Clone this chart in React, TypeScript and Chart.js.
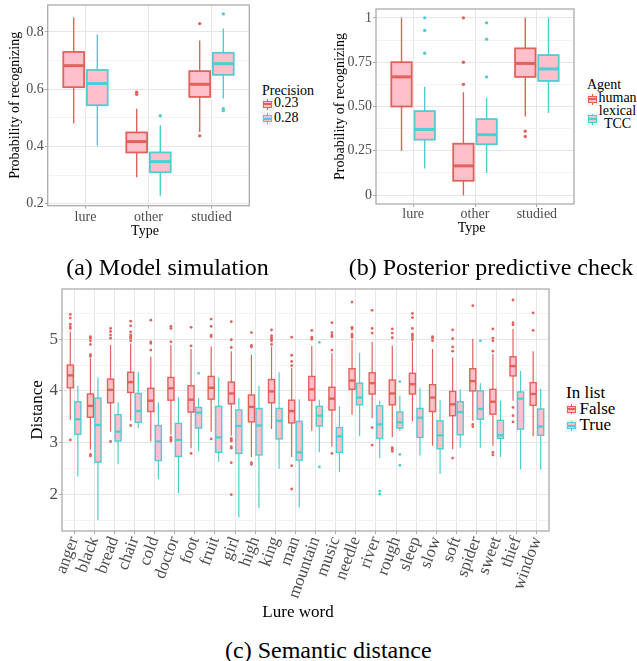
import React, { useEffect, useRef } from 'react';
import { Chart, registerables } from 'chart.js';

Chart.register(...registerables);

const FONT = "'Liberation Serif', 'Times New Roman', Times, serif";
const RED = '#E2615B';
const CYAN = '#4FCDD2';
const PINK = '#FFC0CB';
const TICK_TEXT = '#4D4D4D';
const GRID_MAJOR = '#E6E6E6';
const GRID_MINOR = '#F3F3F3';
const BORDER = '#ABABAB';

// ---------- Panel (a): Model simulation ----------
const aCats = ['lure', 'other', 'studied'];
const aLegendTitle = 'Precision';
const aLegendLabels = ['0.23', '0.28'];
const aYTicks = [0.2, 0.4, 0.6, 0.8];
const aYTickLabels = ['0.2', '0.4', '0.6', '0.8'];
const aYMinor = [0.3, 0.5, 0.7];
const a023Low = [0.48, 0.292, 0.45];
const a023Q1 = [0.607, 0.379, 0.573];
const a023Med = [0.682, 0.417, 0.617];
const a023Q3 = [0.73, 0.449, 0.663];
const a023High = [0.85, 0.532, 0.77];
const a023Out = [[], [0.582, 0.589], [0.829, 0.437]];
const a028Low = [0.402, 0.228, 0.567];
const a028Q1 = [0.544, 0.31, 0.65];
const a028Med = [0.62, 0.347, 0.689];
const a028Q3 = [0.667, 0.379, 0.727];
const a028High = [0.791, 0.474, 0.812];
const a028Out = [[], [0.507], [0.863, 0.532, 0.525]];

// ---------- Panel (b): Posterior predictive check ----------
const bCats = ['lure', 'other', 'studied'];
const bLegendTitle = 'Agent';
const bLegendLabels = ['human', 'lexical\nTCC'];
const bYTicks = [0, 0.25, 0.5, 0.75, 1];
const bYTickLabels = ['0', '0.25', '0.50', '0.75', '1'];
const bYMinor = [0.125, 0.375, 0.625, 0.875];
const bHumanLow = [0.25, 0.0, 0.444];
const bHumanQ1 = [0.5, 0.081, 0.667];
const bHumanMed = [0.667, 0.165, 0.743];
const bHumanQ3 = [0.75, 0.29, 0.828];
const bHumanHigh = [1.0, 0.58, 1.0];
const bHumanOut = [[], [1.0, 0.75, 0.625], [0.361, 0.331]];
const bTccLow = [0.15, 0.125, 0.463];
const bTccQ1 = [0.313, 0.287, 0.644];
const bTccMed = [0.371, 0.341, 0.712];
const bTccQ3 = [0.474, 0.429, 0.79];
const bTccHigh = [0.612, 0.549, 1.0];
const bTccOut = [[1.0, 0.929, 0.8], [0.972, 0.88, 0.667], []];

// ---------- Panel (c): Semantic distance ----------
const cCats = ['anger', 'black', 'bread', 'chair', 'cold', 'doctor', 'foot', 'fruit', 'girl', 'high', 'king', 'man',
  'mountain', 'music', 'needle', 'river', 'rough', 'sleep', 'slow', 'soft', 'spider', 'sweet', 'thief', 'window'];
const cLegendTitle = 'In list';
const cLegendLabels = ['False', 'True'];
const cYTicks = [2, 3, 4, 5];
const cYTickLabels = ['2', '3', '4', '5'];
const cYMinor = [1.5, 2.5, 3.5, 4.5, 5.5];
const cFalseHigh = [5.15, 4.63, 4.89, 4.92, 4.66, 4.89, 4.81, 4.86, 4.77, 4.70, 4.86, 4.45, 4.87, 4.73, 4.99, 4.95, 4.88, 4.95, 4.81, 4.65, 5.01, 4.71, 5.20, 4.77];
const cFalseQ3 = [4.50, 3.94, 4.23, 4.36, 4.05, 4.26, 4.10, 4.28, 4.17, 3.92, 4.22, 3.82, 4.28, 4.07, 4.43, 4.35, 4.21, 4.34, 4.12, 3.99, 4.43, 4.03, 4.66, 4.16];
const cFalseMed = [4.30, 3.71, 4.02, 4.17, 3.81, 4.05, 3.83, 4.06, 3.95, 3.69, 3.99, 3.61, 4.03, 3.85, 4.20, 4.15, 3.95, 4.13, 3.87, 3.74, 4.19, 3.79, 4.48, 3.94];
const cFalseQ1 = [4.06, 3.49, 3.77, 3.97, 3.60, 3.82, 3.59, 3.84, 3.75, 3.40, 3.77, 3.38, 3.82, 3.63, 4.03, 3.94, 3.73, 3.94, 3.60, 3.52, 4.00, 3.55, 4.29, 3.72];
const cFalseLow = [3.44, 2.86, 3.21, 3.42, 3.02, 3.15, 2.89, 3.21, 3.13, 2.72, 3.26, 2.72, 3.23, 2.92, 3.54, 3.47, 3.10, 3.41, 2.94, 2.87, 3.42, 2.94, 3.81, 3.12];
const cFalseOut = [
  [5.48, 5.41, 5.29, 5.24, 5.21, 3.05],
  [5.05, 5.02, 4.97, 4.90, 4.70, 4.67, 2.77, 2.74],
  [5.21, 5.15, 5.08, 5.02, 3.02],
  [5.35, 5.26, 5.14, 5.08, 5.05, 5.02, 4.97, 3.33],
  [5.37, 4.95, 4.92, 4.79],
  [5.25, 5.21, 4.95, 3.10, 3.06, 3.03],
  [5.23, 4.87, 2.79],
  [5.39, 5.25, 5.08, 5.05, 3.07],
  [5.34, 4.99, 4.84, 3.08, 3.05, 3.03, 2.92, 2.89, 2.61, 1.99],
  [5.13, 4.88, 4.85, 2.61, 2.58],
  [5.18, 5.07, 5.03, 5.00, 4.97, 4.90],
  [5.04, 4.69, 4.57, 4.49, 2.55, 2.10],
  [5.17, 5.04, 5.00],
  [5.32, 5.13, 5.08, 5.05, 4.79, 2.79],
  [5.72, 5.23, 5.20, 5.10, 5.07, 5.04],
  [5.56, 5.21, 5.12, 3.29, 2.95],
  [5.20, 5.12, 5.03, 2.90, 2.87, 2.83],
  [5.50, 5.42, 5.21, 5.10, 5.07, 5.03, 4.99],
  [5.05, 5.02, 4.97],
  [5.18, 5.01, 4.85, 4.77, 2.70],
  [5.65, 3.35, 3.31],
  [5.20, 5.02, 4.97, 4.77, 2.81, 2.76],
  [5.76, 5.32, 5.28, 3.68, 3.52, 3.40],
  [5.51, 5.17],
];
const cTrueHigh = [4.10, 4.26, 3.78, 4.37, 3.78, 3.88, 3.86, 4.26, 3.86, 4.10, 4.36, 3.84, 3.83, 3.70, 4.74, 3.81, 3.91, 4.06, 3.83, 4.03, 4.15, 3.81, 4.39, 4.04];
const cTrueQ3 = [3.79, 3.86, 3.54, 3.95, 3.33, 3.37, 3.68, 3.70, 3.63, 3.66, 3.66, 3.41, 3.70, 3.29, 4.15, 3.71, 3.59, 3.66, 3.42, 3.79, 4.00, 3.43, 3.98, 3.65];
const cTrueMed = [3.45, 3.34, 3.21, 3.61, 3.02, 3.05, 3.58, 3.10, 3.32, 3.33, 3.42, 2.81, 3.52, 3.12, 3.87, 3.35, 3.39, 3.48, 3.14, 3.59, 3.65, 3.14, 3.85, 3.31];
const cTrueQ1 = [3.16, 2.62, 3.03, 3.39, 2.65, 2.73, 3.28, 2.81, 2.79, 2.76, 3.07, 2.66, 3.32, 2.81, 3.73, 3.08, 3.28, 3.10, 2.88, 3.15, 3.45, 3.08, 3.26, 3.14];
const cTrueLow = [2.34, 1.50, 2.58, 3.28, 2.29, 2.02, 2.83, 2.63, 1.55, 1.73, 2.49, 1.74, 2.81, 2.43, 3.12, 2.70, 3.23, 2.75, 2.39, 2.90, 2.90, 2.72, 2.48, 2.48];
const cTrueOut = [
  [], [], [], [], [], [], [4.34], [], [], [], [], [],
  [4.94, 2.53], [], [], [2.06, 2.00], [4.18, 2.77, 2.56], [], [], [], [4.97], [], [], [],
];

// ---------- captions ----------
const captionA = '(a) Model simulation';
const captionB = '(b) Posterior predictive check';
const captionC = '(c) Semantic distance';

type Series = {
  color: string; offset: number;
  low: number[]; q1: number[]; med: number[]; q3: number[]; high: number[]; out: number[][];
};

type PanelSpec = {
  cats: string[]; series: Series[];
  yMin: number; yMax: number; yMajor: number[]; yMajorLabels: string[]; yMinor: number[];
  xTitle: string; yTitle: string; fontSize: number; rotation: number;
  canvas: { x: number; y: number; w: number; h: number };
  plot: { l: number; t: number; r: number; b: number };
  yTitleX: number; xTitleX: number; xTitleY: number; xTickPad: number;
  boxWidth: number; pointRadius: number; boxLine: number; medLine: number; whiskerLine: number;
};

function boxPlugin(s: PanelSpec) {
  return {
    id: 'boxes',
    beforeDatasetsDraw(chart: any) {
      const { ctx, scales } = chart;
      const x = scales.x;
      const y = scales.y;
      const halfW = (x.getPixelForValue(1 + s.boxWidth / 2) - x.getPixelForValue(1));
      ctx.save();
      s.series.forEach((se) => {
        se.q1.forEach((_: number, i: number) => {
          const cx = x.getPixelForValue(i + 1 + se.offset);
          const pLow = y.getPixelForValue(se.low[i]);
          const pQ1 = y.getPixelForValue(se.q1[i]);
          const pMed = y.getPixelForValue(se.med[i]);
          const pQ3 = y.getPixelForValue(se.q3[i]);
          const pHigh = y.getPixelForValue(se.high[i]);
          ctx.strokeStyle = se.color;
          ctx.lineWidth = s.whiskerLine;
          ctx.beginPath();
          ctx.moveTo(cx, pHigh); ctx.lineTo(cx, pQ3);
          ctx.moveTo(cx, pQ1); ctx.lineTo(cx, pLow);
          ctx.stroke();
          ctx.fillStyle = PINK;
          ctx.fillRect(cx - halfW, pQ3, 2 * halfW, pQ1 - pQ3);
          ctx.lineWidth = s.boxLine;
          ctx.strokeRect(cx - halfW, pQ3, 2 * halfW, pQ1 - pQ3);
          ctx.lineWidth = s.medLine;
          ctx.beginPath();
          ctx.moveTo(cx - halfW, pMed); ctx.lineTo(cx + halfW, pMed);
          ctx.stroke();
        });
      });
      ctx.restore();
    },
    afterDatasetsDraw(chart: any) {
      const { ctx, chartArea: a } = chart;
      ctx.save();
      ctx.strokeStyle = BORDER;
      ctx.lineWidth = 1.3;
      ctx.strokeRect(a.left, a.top, a.right - a.left, a.bottom - a.top);
      ctx.restore();
    },
  };
}

function buildConfig(s: PanelSpec): any {
  const lh = s.fontSize * 1.2;
  const { x: cx, y: cy, w, h } = s.canvas;
  const padLeft = s.yTitleX - cx - lh / 2;
  const yWidth = s.plot.l - cx - padLeft;
  const padTop = s.plot.t - cy;
  const padRight = cx + w - s.plot.r;
  const xBottom = s.xTitleY + lh / 2 - cy;
  const padBottom = h - xBottom;
  const xHeight = xBottom - (s.plot.b - cy);
  const font = { family: FONT, size: s.fontSize };
  const n = s.cats.length;
  const majorIdx = (v: number) => s.yMajor.findIndex((m) => Math.abs(m - v) < 1e-9);
  const zero = (sc: any) => { sc.paddingLeft = 0; sc.paddingRight = 0; sc.paddingTop = 0; sc.paddingBottom = 0; };
  return {
    type: 'scatter',
    data: {
      datasets: s.series.map((se) => ({
        data: se.out.flatMap((arr, i) => arr.map((v) => ({ x: i + 1 + se.offset, y: v }))),
        pointRadius: s.pointRadius,
        pointBackgroundColor: se.color,
        pointBorderWidth: 0,
        pointHoverRadius: 0,
      })),
    },
    options: {
      responsive: false,
      animation: false,
      devicePixelRatio: 1,
      events: [],
      layout: { padding: { left: padLeft, top: padTop, right: padRight, bottom: padBottom } },
      plugins: { legend: { display: false }, tooltip: { enabled: false } },
      scales: {
        x: {
          type: 'linear', min: 0.4, max: n + 0.6,
          afterBuildTicks: (sc: any) => { sc.ticks = s.cats.map((_, i) => ({ value: i + 1 })); },
          afterFit: (sc: any) => { sc.height = xHeight; zero(sc); },
          ticks: {
            callback: (v: number) => s.cats[Math.round(v) - 1] ?? '',
            color: TICK_TEXT, font, padding: s.xTickPad, autoSkip: false,
            minRotation: s.rotation, maxRotation: s.rotation,
          },
          grid: { color: GRID_MAJOR, lineWidth: 1, tickColor: BORDER, tickLength: 3, drawTicks: true },
          border: { display: false },
          title: { display: false, text: s.xTitle },
        },
        y: {
          type: 'linear', min: s.yMin, max: s.yMax,
          afterBuildTicks: (sc: any) => {
            sc.ticks = [...s.yMajor, ...s.yMinor].sort((p, q) => p - q).map((v) => ({ value: v }));
          },
          afterFit: (sc: any) => { sc.width = yWidth; zero(sc); },
          ticks: {
            callback: (v: number) => { const k = majorIdx(v); return k >= 0 ? s.yMajorLabels[k] : ''; },
            color: TICK_TEXT, font, padding: 1, autoSkip: false,
          },
          grid: {
            color: (c: any) => (c.tick && majorIdx(c.tick.value) >= 0 ? GRID_MAJOR : GRID_MINOR),
            tickColor: (c: any) => (c.tick && majorIdx(c.tick.value) >= 0 ? BORDER : 'rgba(0,0,0,0)'),
            lineWidth: 1, tickLength: 3, drawTicks: true,
          },
          border: { display: false },
          title: { display: true, text: s.yTitle, color: '#000', font, padding: 0 },
        },
      },
    },
    plugins: [boxPlugin(s)],
  };
}

function BoxPanel({ spec }: { spec: PanelSpec }) {
  const ref = useRef<HTMLCanvasElement>(null);
  useEffect(() => {
    const chart = new Chart(ref.current as HTMLCanvasElement, buildConfig(spec));
    return () => chart.destroy();
  }, []);
  const { x, y, w, h } = spec.canvas;
  const fs = spec.fontSize;
  return (
    <>
      <canvas ref={ref} width={w} height={h}
        style={{ position: 'absolute', left: x, top: y, width: w, height: h }} />
      <div style={{
        position: 'absolute', left: spec.xTitleX - 100, width: 200, top: spec.xTitleY - 0.56 * fs,
        textAlign: 'center', fontFamily: FONT, fontSize: fs, lineHeight: `${fs}px`, color: '#000', whiteSpace: 'nowrap',
      }}>{spec.xTitle}</div>
    </>
  );
}

function Key({ color, x, cy, w, h }: { color: string; x: number; cy: number; w: number; h: number }) {
  return (
    <div style={{ position: 'absolute', left: x, top: cy - h / 2, width: w, height: h, background: '#F2F2F2' }}>
      <div style={{ position: 'absolute', left: w / 2 - 0.6, top: 1, width: 1.2, height: h - 2, background: color }} />
      <div style={{
        position: 'absolute', left: 1, width: w - 2, top: h * 0.22, height: h * 0.56,
        background: PINK, border: `1.3px solid ${color}`, boxSizing: 'border-box',
      }} />
      <div style={{ position: 'absolute', left: 1, width: w - 2, top: h / 2 - 1, height: 2, background: color }} />
    </div>
  );
}

type LegendItem = { color: string; keyCy: number; lines: string[]; lineCys: number[] };

function Legend({ x, title, titleCy, fs, keyW, keyH, labelX, labelW, center, items }:
  { x: number; title: string; titleCy: number; fs: number; keyW: number; keyH: number; labelX: number; labelW?: number; center?: boolean; items: LegendItem[] }) {
  const textStyle = (top: number, left: number): React.CSSProperties => ({
    position: 'absolute', left, top, fontFamily: FONT, fontSize: fs, lineHeight: `${fs}px`,
    whiteSpace: 'nowrap', color: '#000',
  });
  return (
    <>
      <div style={textStyle(titleCy - 0.56 * fs, x)}>{title}</div>
      {items.map((it, k) => (
        <React.Fragment key={k}>
          <Key color={it.color} x={x} cy={it.keyCy} w={keyW} h={keyH} />
          {it.lines.map((ln, j) => (
            <div key={j} style={{
              ...textStyle(it.lineCys[j] - 0.56 * fs, labelX),
              ...(center && labelW ? { width: labelW, textAlign: 'center' as const } : {}),
            }}>{ln}</div>
          ))}
        </React.Fragment>
      ))}
    </>
  );
}

function Caption({ text, cx, cy }: { text: string; cx: number; cy: number }) {
  return (
    <div style={{
      position: 'absolute', left: cx - 200, width: 400, top: cy - 0.56 * 24, textAlign: 'center',
      fontFamily: FONT, fontSize: 24, lineHeight: '24px', whiteSpace: 'nowrap', color: '#000',
    }}>{text}</div>
  );
}

const panelA: PanelSpec = {
  cats: aCats,
  series: [
    { color: RED, offset: -0.1875, low: a023Low, q1: a023Q1, med: a023Med, q3: a023Q3, high: a023High, out: a023Out },
    { color: CYAN, offset: 0.1875, low: a028Low, q1: a028Q1, med: a028Med, q3: a028Q3, high: a028High, out: a028Out },
  ],
  yMin: 0.193, yMax: 0.894, yMajor: aYTicks, yMajorLabels: aYTickLabels, yMinor: aYMinor,
  xTitle: 'Type', yTitle: 'Probability of recognizing', fontSize: 14, rotation: 0,
  canvas: { x: 0, y: 0, w: 256, h: 242 },
  plot: { l: 47.7, t: 5, r: 249.3, b: 205.7 },
  yTitleX: 15.7, xTitleX: 145, xTitleY: 231.7, xTickPad: 0,
  boxWidth: 0.33, pointRadius: 1.7, boxLine: 1.8, medLine: 3, whiskerLine: 1.4,
};

const panelB: PanelSpec = {
  cats: bCats,
  series: [
    { color: RED, offset: -0.1875, low: bHumanLow, q1: bHumanQ1, med: bHumanMed, q3: bHumanQ3, high: bHumanHigh, out: bHumanOut },
    { color: CYAN, offset: 0.1875, low: bTccLow, q1: bTccQ1, med: bTccMed, q3: bTccQ3, high: bTccHigh, out: bTccOut },
  ],
  yMin: -0.05, yMax: 1.05, yMajor: bYTicks, yMajorLabels: bYTickLabels, yMinor: bYMinor,
  xTitle: 'Type', yTitle: 'Probability of recognizing', fontSize: 14, rotation: 0,
  canvas: { x: 330, y: 0, w: 250, h: 242 },
  plot: { l: 376, t: 9, r: 574, b: 204 },
  yTitleX: 340, xTitleX: 471.7, xTitleY: 229.3, xTickPad: -1,
  boxWidth: 0.33, pointRadius: 1.7, boxLine: 1.8, medLine: 3, whiskerLine: 1.4,
};

const panelC: PanelSpec = {
  cats: cCats,
  series: [
    { color: RED, offset: -0.1875, low: cFalseLow, q1: cFalseQ1, med: cFalseMed, q3: cFalseQ3, high: cFalseHigh, out: cFalseOut },
    { color: CYAN, offset: 0.1875, low: cTrueLow, q1: cTrueQ1, med: cTrueMed, q3: cTrueQ3, high: cTrueHigh, out: cTrueOut },
  ],
  yMin: 1.287, yMax: 5.973, yMajor: cYTicks, yMajorLabels: cYTickLabels, yMinor: cYMinor,
  xTitle: 'Lure word', yTitle: 'Distance', fontSize: 17, rotation: 70,
  canvas: { x: 0, y: 275, w: 560, h: 350 },
  plot: { l: 62, t: 289, r: 549, b: 531 },
  yTitleX: 38, xTitleX: 298, xTitleY: 612.5, xTickPad: 0,
  boxWidth: 0.3, pointRadius: 1.4, boxLine: 1.4, medLine: 2.4, whiskerLine: 1.2,
};

export default function App() {
  return (
    <div style={{ position: 'absolute', left: 0, top: 0, width: 637, height: 661, background: '#fff', overflow: 'hidden' }}>
      <BoxPanel spec={panelA} />
      <BoxPanel spec={panelB} />
      <BoxPanel spec={panelC} />
      <Legend x={262} title={aLegendTitle} titleCy={91.7} fs={14} keyW={11} keyH={13} labelX={274}
        items={[
          { color: RED, keyCy: 104.3, lines: [aLegendLabels[0]], lineCys: [104.3] },
          { color: CYAN, keyCy: 118.7, lines: [aLegendLabels[1]], lineCys: [118.7] },
        ]} />
      <Legend x={587} title={bLegendTitle} titleCy={86} fs={14} keyW={11} keyH={13} labelX={598.5} labelW={38} center
        items={[
          { color: RED, keyCy: 99.3, lines: [bLegendLabels[0]], lineCys: [99.3] },
          { color: CYAN, keyCy: 119, lines: bLegendLabels[1].split('\n'), lineCys: [112.3, 124.5] },
        ]} />
      <Legend x={566} title={cLegendTitle} titleCy={393.3} fs={17} keyW={11} keyH={12} labelX={579.5}
        items={[
          { color: RED, keyCy: 409.3, lines: [cLegendLabels[0]], lineCys: [409.3] },
          { color: CYAN, keyCy: 425.7, lines: [cLegendLabels[1]], lineCys: [425.7] },
        ]} />
      <Caption text={captionA} cx={167.5} cy={268} />
      <Caption text={captionB} cx={491} cy={268} />
      <Caption text={captionC} cx={328.3} cy={651} />
    </div>
  );
}
